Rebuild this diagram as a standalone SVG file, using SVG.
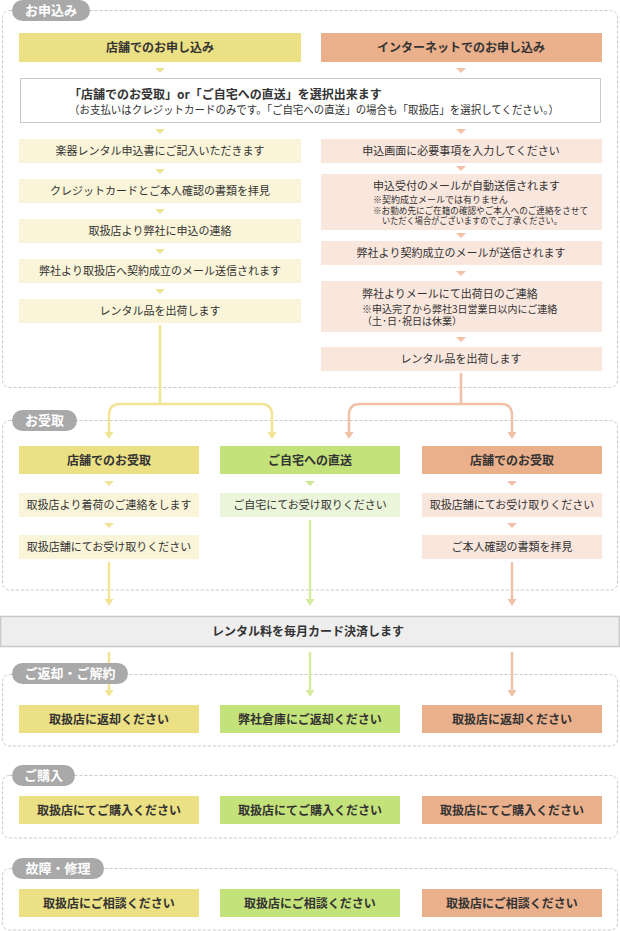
<svg xmlns="http://www.w3.org/2000/svg" xmlns:xlink="http://www.w3.org/1999/xlink" width="620" height="931" viewBox="0 0 620 931">
<style>
text{font-family:"Noto Sans CJK JP","Noto Sans",sans-serif;fill:#333;}
.sec{fill:none;stroke:#c9c9c9;stroke-width:1;stroke-dasharray:3 2;}
.pill{fill:#a9a9a9;}
.pt{fill:#fff;font-size:13px;font-weight:bold;text-anchor:middle;}
.h{font-size:12px;font-weight:bold;text-anchor:middle;}
.s{font-size:11px;text-anchor:middle;}
.l{font-size:11px;}
.n{font-size:9px;}
.hy{fill:#ece084;}
.ho{fill:#eab08c;}
.hg{fill:#c4e27a;}
.ly{fill:#faf5d9;}
.lp{fill:#f9e6dd;}
.lg{fill:#ebf5d9;}
.cy{fill:none;stroke:#f1e495;stroke-width:2.5;}
.co{fill:none;stroke:#f0c1a7;stroke-width:2.5;}
.cg{fill:none;stroke:#d5ec9f;stroke-width:2.5;}
</style>
<defs>
<polygon id="sy" points="-5,0 5,0 0,5" fill="#efe294"/>
<polygon id="so" points="-5,0 5,0 0,5" fill="#f2c1a6"/>
<polygon id="sg" points="-5,0 5,0 0,5" fill="#cde894"/>
<polygon id="ay" points="-4.5,0 4.5,0 0,7" fill="#f1e495"/>
<polygon id="ao" points="-4.5,0 4.5,0 0,7" fill="#f0c1a7"/>
<polygon id="ag" points="-4.5,0 4.5,0 0,7" fill="#d5ec9f"/>
</defs>

<!-- section frames -->
<g id="sections">
<rect class="sec" x="2.5" y="10.5" width="615" height="377" rx="7"/>
<rect class="sec" x="2.5" y="420.5" width="615" height="169.5" rx="7"/>
<rect class="sec" x="2.5" y="674.5" width="615" height="71.5" rx="7"/>
<rect class="sec" x="2.5" y="775.5" width="615" height="62.5" rx="7"/>
<rect class="sec" x="2.5" y="868.5" width="615" height="61.5" rx="7"/>
</g>

<!-- connectors -->
<g id="connectors">
<path class="cy" d="M160,325 V404"/>
<path class="cy" d="M109,432 V415 Q109,404 120,404 H261 Q272,404 272,415 V432"/>
<use xlink:href="#ay" x="109" y="432"/>
<use xlink:href="#ay" x="272" y="432"/>
<path class="co" d="M461,373 V404"/>
<path class="co" d="M349,432 V415 Q349,404 360,404 H501 Q512,404 512,415 V432"/>
<use xlink:href="#ao" x="349" y="432"/>
<use xlink:href="#ao" x="512" y="432"/>
<path class="cy" d="M109,562 V600"/>
<use xlink:href="#ay" x="109" y="599"/>
<path class="cg" d="M310,520 V600"/>
<use xlink:href="#ag" x="310" y="599"/>
<path class="co" d="M512,562 V600"/>
<use xlink:href="#ao" x="512" y="599"/>
<path class="cy" d="M109,652 V691"/>
<use xlink:href="#ay" x="109" y="690"/>
<path class="cg" d="M310,652 V691"/>
<use xlink:href="#ag" x="310" y="690"/>
<path class="co" d="M512,652 V691"/>
<use xlink:href="#ao" x="512" y="690"/>
<!-- step triangles -->
<use xlink:href="#sy" x="160" y="68"/>
<use xlink:href="#so" x="461" y="68"/>
<use xlink:href="#sy" x="160" y="129"/>
<use xlink:href="#so" x="461" y="129"/>
<use xlink:href="#sy" x="160" y="169"/>
<use xlink:href="#sy" x="160" y="209"/>
<use xlink:href="#sy" x="160" y="249"/>
<use xlink:href="#sy" x="160" y="289"/>
<use xlink:href="#so" x="461" y="166"/>
<use xlink:href="#so" x="461" y="233"/>
<use xlink:href="#so" x="461" y="271"/>
<use xlink:href="#so" x="461" y="337"/>
<use xlink:href="#sy" x="109" y="481"/>
<use xlink:href="#sg" x="310" y="481"/>
<use xlink:href="#so" x="512" y="481"/>
<use xlink:href="#sy" x="109" y="523"/>
<use xlink:href="#so" x="512" y="523"/>
</g>

<!-- section 1 -->
<g id="label-apply"><rect class="pill" x="12" y="0" width="78" height="21" rx="10.5"/><text class="pt" x="51" y="15">お申込み</text></g>
<g id="apply-store"><rect class="hy" x="19" y="33" width="282" height="29"/><text class="h" x="160" y="52">店舗でのお申し込み</text></g>
<g id="apply-net"><rect class="ho" x="321" y="33" width="281" height="29"/><text class="h" x="461" y="52">インターネットでのお申し込み</text></g>
<g id="choose"><rect x="20.5" y="78.5" width="580" height="44" fill="#fff" stroke="#c8c8c8"/>
<text x="69" y="99" font-size="12" font-weight="bold">「店舗でのお受取」or「ご自宅への直送」を選択出来ます</text>
<text x="69" y="114" font-size="11" textLength="490" lengthAdjust="spacingAndGlyphs">（お支払いはクレジットカードのみです。「ご自宅への直送」の場合も「取扱店」を選択してください。）</text></g>

<g id="s1"><rect class="ly" x="19" y="139" width="282" height="24"/><text class="s" x="160" y="155">楽器レンタル申込書にご記入いただきます</text></g>
<g id="s2"><rect class="ly" x="19" y="179" width="282" height="24"/><text class="s" x="160" y="195">クレジットカードとご本人確認の書類を拝見</text></g>
<g id="s3"><rect class="ly" x="19" y="219" width="282" height="24"/><text class="s" x="160" y="235">取扱店より弊社に申込の連絡</text></g>
<g id="s4"><rect class="ly" x="19" y="259" width="282" height="24"/><text class="s" x="160" y="275">弊社より取扱店へ契約成立のメール送信されます</text></g>
<g id="s5"><rect class="ly" x="19" y="299" width="282" height="24"/><text class="s" x="160" y="315">レンタル品を出荷します</text></g>

<g id="n1"><rect class="lp" x="321" y="139" width="281" height="24"/><text class="s" x="461" y="155">申込画面に必要事項を入力してください</text></g>
<g id="n2"><rect class="lp" x="321" y="174" width="281" height="56"/>
<text class="l" x="373" y="190">申込受付のメールが自動送信されます</text>
<text class="n" x="373" y="203">※契約成立メールでは有りません</text>
<text class="n" x="373" y="214" textLength="215" lengthAdjust="spacingAndGlyphs">※お勤め先にご在籍の確認やご本人へのご連絡をさせて</text>
<text class="n" x="382" y="224" textLength="180" lengthAdjust="spacingAndGlyphs">いただく場合がございますのでご了承ください。</text></g>
<g id="n3"><rect class="lp" x="321" y="241" width="281" height="24"/><text class="s" x="461" y="257">弊社より契約成立のメールが送信されます</text></g>
<g id="n4"><rect class="lp" x="321" y="281" width="281" height="51"/>
<text class="l" x="362" y="298">弊社よりメールにて出荷日のご連絡</text>
<text x="362" y="313" font-size="10">※申込完了から弊社3日営業日以内にご連絡</text>
<text x="362" y="325" font-size="10">（土･日･祝日は休業）</text></g>
<g id="n5"><rect class="lp" x="321" y="347" width="281" height="24"/><text class="s" x="461" y="363">レンタル品を出荷します</text></g>

<!-- section 2 -->
<g id="label-receive"><rect class="pill" x="12" y="410" width="65" height="21" rx="10.5"/><text class="pt" x="44.5" y="425">お受取</text></g>
<g id="r-store1"><rect class="hy" x="19" y="446" width="180" height="28"/><text class="h" x="109" y="465">店舗でのお受取</text></g>
<g id="r-home"><rect class="hg" x="220" y="446" width="180" height="28"/><text class="h" x="310" y="465">ご自宅への直送</text></g>
<g id="r-store2"><rect class="ho" x="422" y="446" width="180" height="28"/><text class="h" x="512" y="465">店舗でのお受取</text></g>
<g id="r1a"><rect class="ly" x="19" y="493" width="180" height="24"/><text class="s" x="109" y="509">取扱店より着荷のご連絡をします</text></g>
<g id="r1b"><rect class="ly" x="19" y="535" width="180" height="24"/><text class="s" x="109" y="551">取扱店舗にてお受け取りください</text></g>
<g id="r2a"><rect class="lg" x="220" y="493" width="180" height="24"/><text class="s" x="310" y="509">ご自宅にてお受け取りください</text></g>
<g id="r3a"><rect class="lp" x="422" y="493" width="180" height="24"/><text class="s" x="512" y="509">取扱店舗にてお受け取りください</text></g>
<g id="r3b"><rect class="lp" x="422" y="535" width="180" height="24"/><text class="s" x="512" y="551">ご本人確認の書類を拝見</text></g>

<!-- band -->
<g id="billing"><rect x="0.5" y="616.5" width="619" height="30" fill="#eeeeee" stroke="#c8c8c8" stroke-width="1.5"/><text class="h" x="308" y="636">レンタル料を毎月カード決済します</text></g>

<!-- section 3 -->
<g id="label-return"><rect class="pill" x="12" y="663" width="116" height="21" rx="10.5"/><text class="pt" x="70" y="678">ご返却・ご解約</text></g>
<g id="ret1"><rect class="hy" x="19" y="705" width="180" height="28"/><text class="h" x="109" y="724">取扱店に返却ください</text></g>
<g id="ret2"><rect class="hg" x="220" y="705" width="180" height="28"/><text class="h" x="310" y="724">弊社倉庫にご返却ください</text></g>
<g id="ret3"><rect class="ho" x="422" y="705" width="180" height="28"/><text class="h" x="512" y="724">取扱店に返却ください</text></g>

<!-- section 4 -->
<g id="label-buy"><rect class="pill" x="12" y="765" width="63" height="21" rx="10.5"/><text class="pt" x="43.5" y="780">ご購入</text></g>
<g id="buy1"><rect class="hy" x="19" y="796" width="180" height="28"/><text class="h" x="109" y="815">取扱店にてご購入ください</text></g>
<g id="buy2"><rect class="hg" x="220" y="796" width="180" height="28"/><text class="h" x="310" y="815">取扱店にてご購入ください</text></g>
<g id="buy3"><rect class="ho" x="422" y="796" width="180" height="28"/><text class="h" x="512" y="815">取扱店にてご購入ください</text></g>

<!-- section 5 -->
<g id="label-repair"><rect class="pill" x="12" y="858" width="92" height="21" rx="10.5"/><text class="pt" x="58" y="873">故障・修理</text></g>
<g id="rep1"><rect class="hy" x="19" y="889" width="180" height="28"/><text class="h" x="109" y="908">取扱店にご相談ください</text></g>
<g id="rep2"><rect class="hg" x="220" y="889" width="180" height="28"/><text class="h" x="310" y="908">取扱店にご相談ください</text></g>
<g id="rep3"><rect class="ho" x="422" y="889" width="180" height="28"/><text class="h" x="512" y="908">取扱店にご相談ください</text></g>
</svg>
